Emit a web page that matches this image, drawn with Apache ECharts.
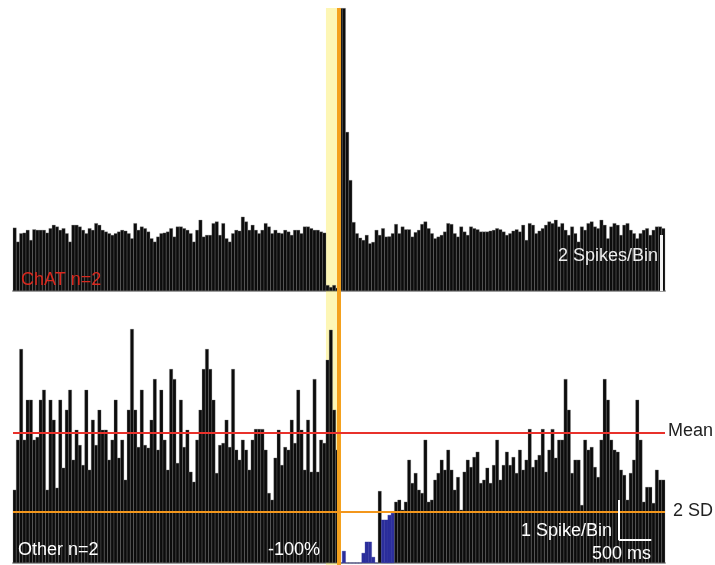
<!DOCTYPE html>
<html><head><meta charset="utf-8">
<script src="https://cdn.jsdelivr.net/npm/echarts@6/dist/echarts.min.js"></script>
<style>html,body{margin:0;padding:0;background:#fff}#c{width:715px;height:565px}</style>
</head><body><div id="c"></div>
<script>
// ---- data ----
const binWidthMs = 50;
const windowStartMs = -5000;
const binCount = 200;
const timeBins = [];
for (let i = 0; i < binCount; i++) timeBins.push(windowStartMs + i * binWidthMs);

// ChAT n=2, spikes per bin
const chatCounts = [
  2.26,1.76,2.06,2.08,2.18,1.82,2.20,2.18,2.18,2.18,
  2.08,2.24,2.36,2.30,2.18,2.24,2.06,1.76,2.36,2.36,
  2.30,2.18,2.06,2.24,2.18,2.42,2.36,2.18,2.12,2.06,
  2.00,2.06,2.12,2.18,2.15,2.06,1.88,2.42,2.18,2.30,
  2.24,2.12,1.88,1.76,1.94,2.06,2.08,2.12,2.24,1.94,
  2.30,2.30,2.24,2.18,2.06,1.76,2.18,2.54,1.94,2.00,
  2.00,2.42,2.48,2.00,2.42,1.88,1.76,2.06,2.18,2.15,
  2.65,2.48,2.18,2.36,2.18,2.06,2.18,2.42,2.30,2.06,
  2.18,2.08,2.06,2.18,2.12,2.00,2.18,2.18,2.06,2.30,
  2.30,2.24,2.18,2.18,2.12,2.08,
  0.21,0.14,0.21,0.11,
  10.1,10.1,5.68,3.96,2.46,
  2.06,1.90,1.82,2.00,1.70,1.75,2.18,2.00,2.24,1.94,
  1.95,2.06,2.39,2.06,2.30,2.20,2.20,1.94,2.10,2.18,
  2.39,2.48,2.24,2.06,1.88,1.94,2.00,2.12,2.42,
  2.39,2.06,1.94,2.30,2.12,2.00,2.30,2.24,2.20,2.12,
  2.12,2.12,2.15,2.18,2.24,2.20,2.12,2.00,2.06,2.15,
  2.20,2.12,2.36,1.82,2.42,2.36,2.06,2.15,2.24,2.36,
  2.48,2.42,
  2.54,2.30,2.42,2.18,2.00,2.30,2.06,1.76,2.30,2.18,
  2.42,2.48,2.30,2.24,2.54,2.36,1.88,2.30,2.42,2.36,
  2.00,2.36,2.42,2.18,2.06,1.88,2.06,2.18,2.24,2.00,
  2.18,2.30,2.30,2.24
];

// Other n=2, spikes per bin
const otherCounts = [
  1.83,3.08,5.35,3.08,4.08,4.08,3.08,3.15,4.08,4.33,
  1.83,4.08,3.58,1.88,4.08,2.38,3.83,4.33,2.58,3.33,
  2.95,2.45,4.33,2.33,3.58,2.95,3.83,3.33,3.33,2.58,
  3.08,4.08,2.63,3.08,2.08,3.83,5.85,3.83,2.90,4.33,
  2.95,2.88,3.58,4.60,2.83,4.33,3.08,2.33,4.85,4.60,
  2.50,4.08,2.90,3.33,2.28,2.03,3.08,3.83,4.85,5.35,
  4.85,4.08,2.25,2.95,3.00,3.58,2.90,4.85,2.83,2.58,
  3.08,2.83,2.33,3.08,3.35,3.35,3.35,2.83,1.75,1.58,
  2.63,3.33,2.45,2.90,2.83,3.58,3.00,4.33,3.33,2.33,
  3.58,2.28,4.60,2.28,3.08,3.00,5.08,5.83,3.83,2.83,
  0,0.30,0,0,0,0,0,0.25,0.53,0.53,0.15,0,1.80,1.08,1.08,1.20,1.25,
  1.53,1.58,1.33,1.53,2.58,2.00,2.25,1.83,1.75,3.08,
  1.53,1.58,2.08,2.25,2.58,2.33,2.83,2.33,1.83,2.15,
  1.33,2.28,2.58,2.40,2.65,2.78,2.00,2.08,2.38,2.00,
  2.45,3.08,2.08,2.45,2.78,2.45,2.65,2.25,2.83,2.33,
  2.58,3.35,2.40,2.58,2.70,3.35,2.28,2.83,3.35,2.63,
  3.08,3.08,4.60,3.83,2.25,2.58,2.58,1.45,3.08,2.83,
  2.90,2.40,2.15,3.08,4.60,4.08,3.08,2.83,2.78,2.33,
  2.20,1.58,2.25,2.58,4.08,3.08,1.53,1.90,1.90,1.50,
  2.33,2.08,2.08
];

const otherMean = 3.25;        // "Mean"
const otherMinus2SD = 1.28;    // "2 SD"
const lightWindowMs = [-200, 0];
const stimLineMs = 0;
const scaleBarMs = 500;
const chatScaleSpikes = 2;
const otherScaleSpikes = 1;
const chatScaleAtMs = 4950;
const otherScaleAtMs = 4290;
const otherScaleBase = 0.575;

// ---- chart ----
const FONT = "'Liberation Sans', Arial, Helvetica, sans-serif";
const chart = echarts.init(document.getElementById('c'), null, {renderer: 'canvas'});

const barBlack = '#0c0c0c';
const barEdge = '#8a8a8a';
const blue = '#2b2e9c';

const otherData = otherCounts.map(v => v < otherMinus2SD
  ? {value: v, itemStyle: {color: blue, borderColor: blue}}
  : {value: v});

function txt(text, x, y, fill, align) {
  return {type: 'text', x: x, y: y, z: 100,
    style: {text: text, fill: fill, font: '18px ' + FONT,
      align: align, textAlign: align, verticalAlign: 'middle', textVerticalAlign: 'middle'}};
}

const option = {
  animation: false,
  backgroundColor: '#ffffff',
  grid: [
    {left: 13, right: 50, top: 8, bottom: 274},
    {left: 13, right: 50, top: 329, bottom: 2},
    {left: 13, right: 50, top: 8, bottom: 0}
  ],
  xAxis: [
    {type: 'category', gridIndex: 0, data: timeBins, boundaryGap: true,
      axisLine: {show: true, lineStyle: {color: '#a0a0a0', width: 2}},
      axisTick: {show: false}, axisLabel: {show: false}, splitLine: {show: false}},
    {type: 'category', gridIndex: 1, data: timeBins, boundaryGap: true,
      axisLine: {show: true, lineStyle: {color: '#a0a0a0', width: 2}},
      axisTick: {show: false}, axisLabel: {show: false}, splitLine: {show: false}},
    {type: 'value', gridIndex: 0, min: windowStartMs, max: windowStartMs + binCount * binWidthMs, show: false},
    {type: 'value', gridIndex: 1, min: windowStartMs, max: windowStartMs + binCount * binWidthMs, show: false},
    {type: 'value', gridIndex: 2, min: windowStartMs, max: windowStartMs + binCount * binWidthMs, show: false}
  ],
  yAxis: [
    {type: 'value', gridIndex: 0, min: 0, max: 283 / 28, show: false},
    {type: 'value', gridIndex: 1, min: 0, max: 234 / 40, show: false},
    {type: 'value', gridIndex: 2, min: 0, max: 1, show: false}
  ],
  series: [
    {
      name: 'ChAT n=2', type: 'bar', xAxisIndex: 0, yAxisIndex: 0,
      data: chatCounts, barWidth: '112%', barGap: '0%', clip: true, z: 2,
      itemStyle: {color: barBlack, borderColor: barEdge, borderWidth: 0.3}
    },
    {
      name: 'Other n=2', type: 'bar', xAxisIndex: 1, yAxisIndex: 1,
      data: otherData, barWidth: '112%', barGap: '0%', clip: true, z: 2,
      itemStyle: {color: barBlack, borderColor: barEdge, borderWidth: 0.3}
    },
    {
      name: 'light', type: 'line', xAxisIndex: 4, yAxisIndex: 2, data: [], z: 5,
      markArea: {silent: true, itemStyle: {color: 'rgba(250,232,60,0.38)'},
        data: [[{xAxis: lightWindowMs[0]}, {xAxis: lightWindowMs[1]}]]},
      markLine: {silent: true, symbol: 'none', label: {show: false},
        lineStyle: {color: '#f4a11e', width: 4, type: 'solid'},
        data: [{xAxis: stimLineMs}]}
    },
    {
      name: 'levels', type: 'line', xAxisIndex: 3, yAxisIndex: 1, data: [], z: 8,
      markLine: {silent: true, symbol: 'none', label: {show: false},
        data: [
          {yAxis: otherMean, lineStyle: {color: '#e8312b', width: 2, type: 'solid'}},
          {yAxis: otherMinus2SD, lineStyle: {color: '#f3971c', width: 2, type: 'solid'}},
          [{coord: [otherScaleAtMs, otherScaleBase + otherScaleSpikes], lineStyle: {color: '#ffffff', width: 2, type: 'solid'}},
           {coord: [otherScaleAtMs, otherScaleBase]}],
          [{coord: [otherScaleAtMs, otherScaleBase], lineStyle: {color: '#ffffff', width: 2, type: 'solid'}},
           {coord: [otherScaleAtMs + scaleBarMs, otherScaleBase]}]
        ]}
    },
    {
      name: 'chatScale', type: 'line', xAxisIndex: 2, yAxisIndex: 0, data: [], z: 8,
      markLine: {silent: true, symbol: 'none', label: {show: false},
        data: [[{coord: [chatScaleAtMs, 0], lineStyle: {color: '#f2f2f2', width: 3, type: 'solid'}},
                {coord: [chatScaleAtMs, chatScaleSpikes]}]]}
    }
  ],
  graphic: [
    txt('ChAT n=2', 21, 280, '#d8281e', 'left'),
    txt('2 Spikes/Bin', 658, 256, '#eeeeee', 'right'),
    txt('Other n=2', 18, 550, '#ffffff', 'left'),
    txt('-100%', 320, 550, '#ffffff', 'right'),
    txt('Mean', 713, 431, '#222222', 'right'),
    txt('2 SD', 713, 511, '#222222', 'right'),
    txt('1 Spike/Bin', 612, 531, '#ffffff', 'right'),
    txt('500 ms', 651, 554, '#ffffff', 'right')
  ]
};
chart.setOption(option);
</script>
</body></html>
